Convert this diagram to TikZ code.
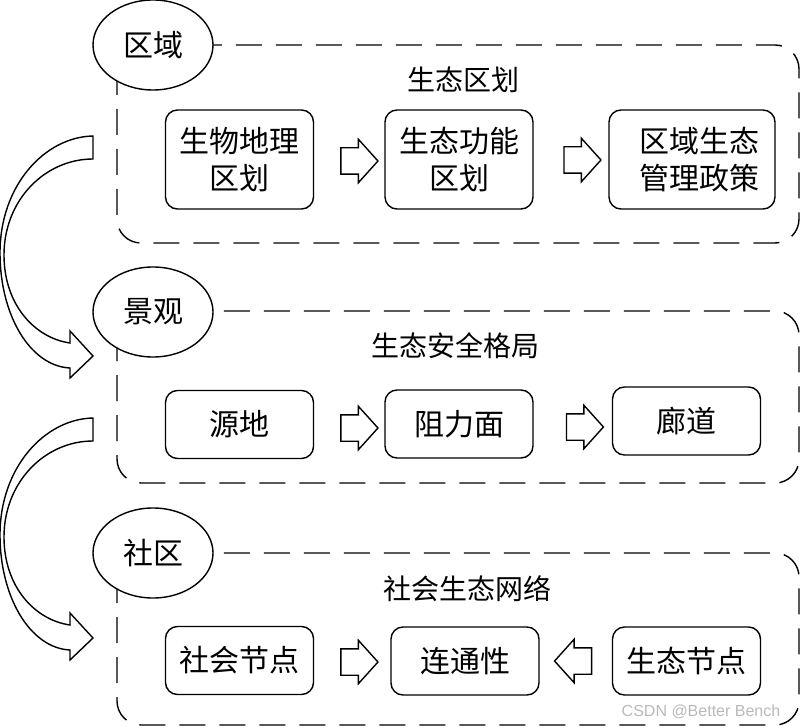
\documentclass[tikz,border=0pt]{standalone}
\usepackage{fontspec}
\newfontfamily\cjk{Noto Sans CJK SC}
\setsansfont{Liberation Sans}
\usetikzlibrary{shapes.geometric,shapes.arrows}

\begin{document}
\begin{tikzpicture}[x=1pt,y=-1pt,line width=1.4pt,
    font=\cjk\fontsize{30}{37}\selectfont]
  \useasboundingbox (0,0) rectangle (800,727);

  % dashed frames
  \begin{scope}[dash pattern=on 26pt off 14pt,rounded corners=24pt]
    \draw (117,45)  rectangle (799,243);
    \draw (117,311) rectangle (799,483);
    \draw (117,553) rectangle (799,725);
  \end{scope}

  % curved arrows on the left
  \foreach \dy in {0,282}
    \draw[shift={(0,\dy)}] (93,136) .. controls (45,137) and (0,185) .. (0,253)
      .. controls (0,315) and (30,366) .. (70,368) -- (70,378) -- (93,356)
      -- (70,331) -- (70,343) .. controls (35,338) and (4,305) .. (4,255)
      .. controls (4,200) and (45,159) .. (93,159) -- cycle;

  \begin{scope}[every node/.style={ellipse,draw,fill=white,
      minimum width=120pt,minimum height=90pt,inner sep=0pt}]
    \node (r) at (153,45)  {区域};
    \node (l) at (153,312) {景观};
    \node (c) at (153,553) {社区};
  \end{scope}

  \begin{scope}[every node/.style={font=\cjk\fontsize{28}{34}\selectfont}]
    \node (rt) at (463,80)  {生态区划};
    \node (lt) at (455,346) {生态安全格局};
    \node (ct) at (467,589) {社会生态网络};
  \end{scope}

  \begin{scope}[every node/.style={draw,rounded corners=12pt,align=center,
      inner sep=0pt,minimum width=148pt,minimum height=68pt}]
    \node[minimum height=99pt] (r1) at (239.5,159.5) {生物地理\\区划};
    \node[minimum height=99pt] (r2) at (459,159.5)   {生态功能\\区划};
    \node[minimum height=99pt,minimum width=166pt] (r3) at (692,159.5)
      {\hspace*{14pt}区域生态\\\hspace*{14pt}管理政策};
    \node (l1) at (239.5,424.5) {源地};
    \node (l2) at (459,424)     {阻力面};
    \node (l3) at (686.5,421)   {廊道};
    \node (c1) at (239.5,660.5) {社会节点};
    \node (c2) at (465,661)     {连通性};
    \node (c3) at (686.5,661)   {生态节点};
  \end{scope}

  \begin{scope}[every node/.style={single arrow,draw,fill=white,
      minimum height=37pt,inner xsep=0pt,inner ysep=12.5pt,
      single arrow head extend=8.5pt,single arrow tip angle=96}]
    \node (ra) at (353.5,161) {};
    \node (rb) at (576.5,160) {};
    \node (la) at (353.5,428) {};
    \node (lb) at (579,427)   {};
    \node (ca) at (353.5,662) {};
    \node[shape border rotate=180] (cb) at (579,661) {};
  \end{scope}

  \node[font=\sffamily\fontsize{16}{16}\selectfont,text=gray!55] (wm)
    at (701,712) {CSDN @Better Bench};

\end{tikzpicture}
\end{document}
